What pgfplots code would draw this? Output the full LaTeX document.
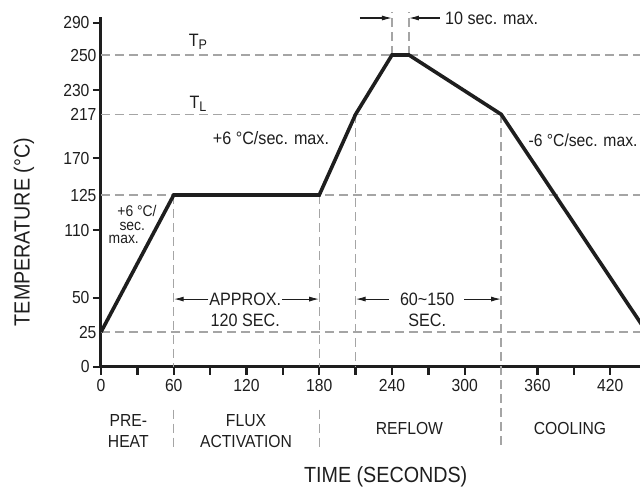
\documentclass[border=0pt]{standalone}
\usepackage{pgfplots}
\pgfplotsset{compat=1.18}
\usepackage{fontspec}
\setmainfont{Liberation Sans}[FakeStretch=0.9]
\usetikzlibrary{calc,arrows.meta}

\definecolor{gridgray}{RGB}{165,165,165}
\definecolor{ink}{RGB}{30,30,30}

\newcommand\fs[1]{\fontsize{#1}{1.18\dimexpr#1pt\relax}\selectfont}

\begin{document}
\begin{tikzpicture}[
  guide/.style={gridgray, line width=1.3bp, dash pattern=on 9bp off 5bp},
  dim/.style={ink, line width=1.1bp, -{Latex[length=10bp,width=5bp]}},
  small/.style={font=\fs{15.5}, text=ink, inner sep=0pt, anchor=base, text height=10bp, text depth=0bp},
]
\begin{axis}[
  x=1.2125bp, y=1bp,
  xmin=0, xmax=444.5, ymin=0, ymax=297.4,
  % the temperature scale of the original is schematic (piecewise)
  y coord trafo/.code={\pgfmathparse{(#1<25) ? (#1*1.388) : ((#1<50) ? (34.7+(#1-25)*1.372) : ((#1<110) ? (69+(#1-50)*1.1283) : ((#1<125) ? (136.7+(#1-110)*2.3333) : ((#1<170) ? (171.7+(#1-125)*0.8222) : ((#1<217) ? (208.7+(#1-170)*0.9298) : ((#1<230) ? (252.4+(#1-217)*1.8692) : ((#1<250) ? (276.7+(#1-230)*1.75) : (311.7+(#1-250)*0.8075))))))))}},
  axis x line=bottom, axis y line=left,
  axis line style={-, ink, line width=3bp},
  tick style={ink, line width=2.4bp},
  tick align=outside,
  major tick length=8bp, minor tick length=8bp,
  xtick={0,60,...,420},
  minor xtick={30,90,...,450},
  ytick={0,50,110,170,230,290},
  yticklabels={0,50,110,170,230,290},
  extra y ticks={25,125,217,250},
  extra y tick labels={25,125,217,250},
  extra y tick style={tick style={draw=none}, yticklabel style={xshift=7bp}},
  tick label style={font=\fs{17.5}, text=ink},
  xticklabel style={yshift=-1.5bp},
  /pgf/number format/assume math mode=true,
  clip=false,
]
\coordinate (o) at (axis cs:0,0);

% guide lines
\addplot[guide] coordinates {(0,25)(444.5,25)};
\addplot[guide] coordinates {(0,125)(444.5,125)};
\addplot[guide] coordinates {(0,217)(444.5,217)};
\addplot[guide] coordinates {(0,250)(444.5,250)};
\addplot[guide] coordinates {(60,125)(60,0)};
\addplot[guide] coordinates {(60,-31)(60,-60)};
\addplot[guide] coordinates {(180,125)(180,0)};
\addplot[guide] coordinates {(180,-31)(180,-60)};
\addplot[guide] coordinates {(210,217)(210,0)};
\addplot[guide] coordinates {(330,217)(330,-60)};
\addplot[guide] coordinates {(240,250)(240,303)};
\addplot[guide] coordinates {(254,250)(254,303)};

% reflow profile
\addplot[ink, line width=3.6bp] coordinates {
(0,25) (60,125) (180,125) (210,217) (240,250) (254,250) (330,217) (450,25)};

% dimension arrows
\addplot[dim] coordinates {(88.5,49)(60,49)};
\addplot[dim] coordinates {(149.5,49)(180,49)};
\addplot[dim] coordinates {(237.5,49)(210,49)};
\addplot[dim] coordinates {(299.5,49)(330,49)};
\addplot[dim] coordinates {(213.5,295.8)(240,295.8)};
\addplot[dim] coordinates {(279.5,295.8)(254,295.8)};

\node[font=\fs{18}, text=ink, align=center] at (axis cs:119,41.4) {APPROX.\\120 SEC.};
\node[font=\fs{18}, text=ink, align=center] at (axis cs:269,41.4) {60\textasciitilde150\\SEC.};
\node[font=\fs{18}, text=ink, anchor=west] at (axis cs:281,295.8) {10 sec. max.};

\node[font=\fs{18}, text=ink] at (axis cs:80,266) {T\raisebox{-0.35ex}{\fs{14}P}};
\node[font=\fs{18}, text=ink] at (axis cs:80,222.5) {T\raisebox{-0.35ex}{\fs{14}L}};

\node[font=\fs{18}, text=ink] at (axis cs:140.2,191.5) {+6 °C/sec. max.};
\node[font=\fs{17.5}, text=ink, anchor=west, inner sep=0pt] at (axis cs:352.5,189.4) {-6 °C/sec. max.};
\node[small] at (axis cs:29.7,115.7) {+6 °C/};
\node[small] at (axis cs:25.8,110) {sec.};
\node[small] at (axis cs:18.8,98.2) {max.};

% phase labels
\node[font=\fs{17.5}, text=ink, align=center] at (axis cs:22.5,-46.2) {PRE-\\HEAT};
\node[font=\fs{17.5}, text=ink, align=center] at (axis cs:119.6,-46.2) {FLUX\\ACTIVATION};
\node[font=\fs{17.5}, text=ink] at (axis cs:254.4,-44.2) {REFLOW};
\node[font=\fs{17.5}, text=ink] at (axis cs:386.8,-44.2) {COOLING};

% axis titles
\node[font=\fs{22}, text=ink] at (axis cs:234.8,-79.3) {TIME (SECONDS)};
\node[font=\fs{22}, text=ink, rotate=90] at (axis cs:-63.5,108.2) {TEMPERATURE (°C)};
\end{axis}
\pgfresetboundingbox
\path[use as bounding box] ($(o)+(-101bp,-122.3bp)$) rectangle ($(o)+(539bp,366.7bp)$);
\end{tikzpicture}
\end{document}
